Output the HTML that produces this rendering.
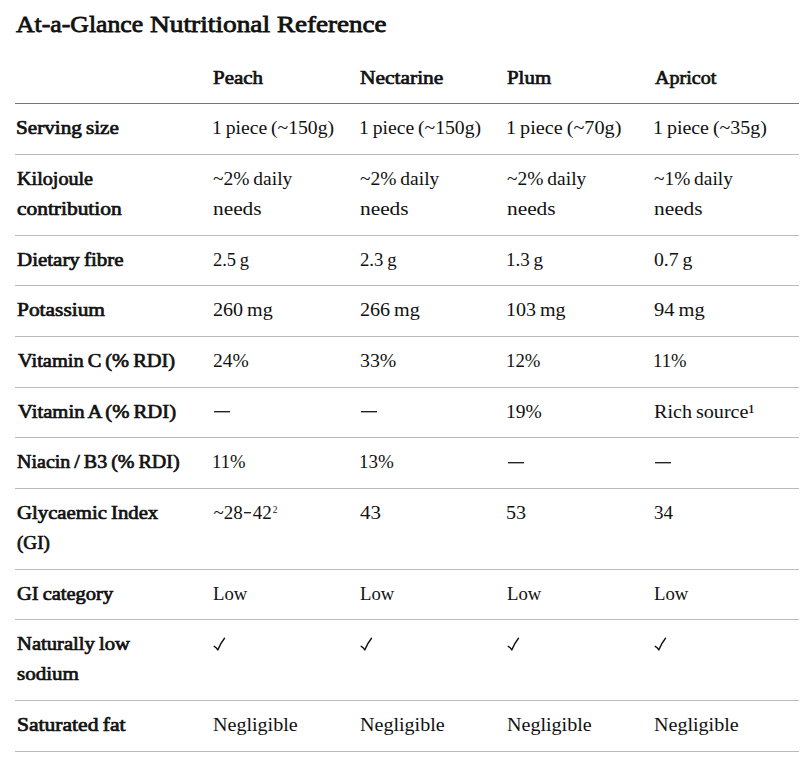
<!DOCTYPE html>
<html><head><meta charset="utf-8"><style>
html,body{margin:0;padding:0;background:#fff;}
body{width:802px;height:763px;overflow:hidden;position:relative;font-family:"Liberation Serif",serif;color:#111;}
h2{position:absolute;left:0;top:8.5px;margin:0;font-size:24px;line-height:30px;font-weight:400;-webkit-text-stroke:0.8px #111;white-space:nowrap;}
h2 span{position:absolute;top:0;transform-origin:0 50%;}
table{position:absolute;left:15px;top:53.4px;width:784px;border-collapse:collapse;table-layout:fixed;font-size:19px;line-height:29.75px;}
td,th{padding:10px 0 10px 0;word-spacing:-1px;border-bottom:1px solid #bbb;text-align:left;vertical-align:top;font-weight:400;white-space:nowrap;}
tbody td{padding:9px 0 11px 0;}
tr.r1 td{padding-bottom:11.5px;}
tr.r2 td{padding-bottom:10.5px;}
tr.r6 .dash{top:1px;}
.en{display:inline-block;width:7px;height:0;border-top:1px solid #222;border-bottom:1px solid #aaa;vertical-align:5px;margin:0 1.5px;}
.sp{font-size:9.5px;vertical-align:6px;margin-left:1px;line-height:0;}
th,td.l{font-weight:400;-webkit-text-stroke:0.7px #111;}
thead th{border-bottom-color:#777;}
.dash{display:inline-block;position:relative;width:16px;height:0;border-top:1px solid #222;border-bottom:1px solid #aaa;vertical-align:5px;margin-left:1px;}
.s{display:inline-block;transform-origin:0 50%;}
.ck{position:relative;display:inline-block;vertical-align:top;margin:5px 0 0 -2px;}
</style></head><body>
<h2><span style="left:16px;transform:scaleX(1.0725)">At-a-Glance</span><span style="left:150px;transform:scaleX(1.1406)">Nutritional</span><span style="left:277px;transform:scaleX(1.1258)">Reference</span></h2>
<table>
<colgroup><col style="width:198px"><col style="width:147px"><col style="width:147px"><col style="width:147px"><col style="width:145px"></colgroup>
<thead><tr><th></th><th><span class="s" style="transform:scaleX(1.1022)">Peach</span></th><th><span class="s" style="transform:scaleX(1.1284)">Nectarine</span></th><th><span class="s" style="transform:scaleX(1.1000)">Plum</span></th><th><span class="s" style="transform:scaleX(1.0550);margin-left:1px">Apricot</span></th></tr></thead>
<tbody>
<tr class="r0"><td class="l"><span class="s" style="transform:scaleX(1.1132);margin-left:0.5px">Serving size</span></td><td><span class="s" style="transform:scaleX(1.0342);margin-left:-1px">1 piece (~150g)</span></td><td><span class="s" style="transform:scaleX(1.0342);margin-left:-1px">1 piece (~150g)</span></td><td><span class="s" style="transform:scaleX(1.0636);margin-left:-1px">1 piece (~70g)</span></td><td><span class="s" style="transform:scaleX(1.0495);margin-left:-1px">1 piece (~35g)</span></td></tr>
<tr class="r1"><td class="l"><span class="s" style="transform:scaleX(1.0597);margin-left:1.5px">Kilojoule</span><br><span class="s" style="transform:scaleX(1.1266);margin-left:1.5px">contribution</span></td><td><span class="s" style="transform:scaleX(1.0256)">~2% daily</span><br><span class="s" style="transform:scaleX(1.1233)">needs</span></td><td><span class="s" style="transform:scaleX(1.0256)">~2% daily</span><br><span class="s" style="transform:scaleX(1.1233)">needs</span></td><td><span class="s" style="transform:scaleX(1.0256)">~2% daily</span><br><span class="s" style="transform:scaleX(1.1233)">needs</span></td><td><span class="s" style="transform:scaleX(1.0192)">~1% daily</span><br><span class="s" style="transform:scaleX(1.1233)">needs</span></td></tr>
<tr class="r2"><td class="l"><span class="s" style="transform:scaleX(1.1031);margin-left:1.5px">Dietary fibre</span></td><td><span class="s" style="transform:scaleX(0.9730)">2.5 g</span></td><td><span class="s" style="transform:scaleX(0.9865)">2.3 g</span></td><td><span class="s" style="transform:scaleX(1.0000);margin-left:-1px">1.3 g</span></td><td><span class="s" style="transform:scaleX(1.0378)">0.7 g</span></td></tr>
<tr class="r3"><td class="l"><span class="s" style="transform:scaleX(1.1266);margin-left:1.5px">Potassium</span></td><td><span class="s" style="transform:scaleX(1.0579)">260 mg</span></td><td><span class="s" style="transform:scaleX(1.0579)">266 mg</span></td><td><span class="s" style="transform:scaleX(1.0536);margin-left:-1px">103 mg</span></td><td><span class="s" style="transform:scaleX(1.0809)">94 mg</span></td></tr>
<tr class="r4"><td class="l"><span class="s" style="transform:scaleX(1.0741);margin-left:2.5px">Vitamin C (% RDI)</span></td><td><span class="s" style="transform:scaleX(1.0286)">24%</span></td><td><span class="s" style="transform:scaleX(1.0429)">33%</span></td><td><span class="s" style="transform:scaleX(0.9882);margin-left:-1px">12%</span></td><td><span class="s" style="transform:scaleX(0.9818);margin-left:-1px">11%</span></td></tr>
<tr class="r5"><td class="l"><span class="s" style="transform:scaleX(1.0884);margin-left:2.5px">Vitamin A (% RDI)</span></td><td><span class="dash"></span></td><td><span class="dash"></span></td><td><span class="s" style="transform:scaleX(1.0294);margin-left:-1px">19%</span></td><td><span class="s" style="transform:scaleX(1.0589)">Rich source¹</span></td></tr>
<tr class="r6"><td class="l"><span class="s" style="transform:scaleX(1.0539);margin-left:1.5px">Niacin / B3 (% RDI)</span></td><td><span class="s" style="transform:scaleX(0.9818);margin-left:-1px">11%</span></td><td><span class="s" style="transform:scaleX(1.0000);margin-left:-1px">13%</span></td><td><span class="dash"></span></td><td><span class="dash"></span></td></tr>
<tr class="r7"><td class="l"><span class="s" style="transform:scaleX(1.0923);margin-left:1.5px">Glycaemic Index</span><br><span class="s" style="transform:scaleX(1.0061);margin-left:1.5px">(GI)</span></td><td><span style="margin-left:0.5px">~28<span class="en"></span>42<span class="sp">2</span></span></td><td><span class="s" style="transform:scaleX(1.1053)">43</span></td><td><span class="s" style="transform:scaleX(1.0556);margin-left:-1px">53</span></td><td><span class="s" style="transform:scaleX(1.0000)">34</span></td></tr>
<tr class="r8"><td class="l"><span class="s" style="transform:scaleX(1.0778);margin-left:1.5px">GI category</span></td><td><span class="s" style="transform:scaleX(0.9857)">Low</span></td><td><span class="s" style="transform:scaleX(0.9857)">Low</span></td><td><span class="s" style="transform:scaleX(0.9857)">Low</span></td><td><span class="s" style="transform:scaleX(0.9857)">Low</span></td></tr>
<tr class="r9"><td class="l"><span class="s" style="transform:scaleX(1.0857);margin-left:1.5px">Naturally low</span><br><span class="s" style="transform:scaleX(1.1070);margin-left:1.5px">sodium</span></td><td><svg class="ck" width="18" height="18" viewBox="0 0 18 18"><path d="M3.2 12.3 Q5.3 13.4 6.8 15.9 Q9.8 8.9 13.5 4.3" fill="none" stroke="#111" stroke-width="1.4" stroke-linecap="round" stroke-linejoin="round"/></svg></td><td><svg class="ck" width="18" height="18" viewBox="0 0 18 18"><path d="M3.2 12.3 Q5.3 13.4 6.8 15.9 Q9.8 8.9 13.5 4.3" fill="none" stroke="#111" stroke-width="1.4" stroke-linecap="round" stroke-linejoin="round"/></svg></td><td><svg class="ck" width="18" height="18" viewBox="0 0 18 18"><path d="M3.2 12.3 Q5.3 13.4 6.8 15.9 Q9.8 8.9 13.5 4.3" fill="none" stroke="#111" stroke-width="1.4" stroke-linecap="round" stroke-linejoin="round"/></svg></td><td><svg class="ck" width="18" height="18" viewBox="0 0 18 18"><path d="M3.2 12.3 Q5.3 13.4 6.8 15.9 Q9.8 8.9 13.5 4.3" fill="none" stroke="#111" stroke-width="1.4" stroke-linecap="round" stroke-linejoin="round"/></svg></td></tr>
<tr class="r10"><td class="l"><span class="s" style="transform:scaleX(1.1354);margin-left:1.5px">Saturated fat</span></td><td><span class="s" style="transform:scaleX(1.0562)">Negligible</span></td><td><span class="s" style="transform:scaleX(1.0562)">Negligible</span></td><td><span class="s" style="transform:scaleX(1.0562)">Negligible</span></td><td><span class="s" style="transform:scaleX(1.0562)">Negligible</span></td></tr>
</tbody></table>
</body></html>
